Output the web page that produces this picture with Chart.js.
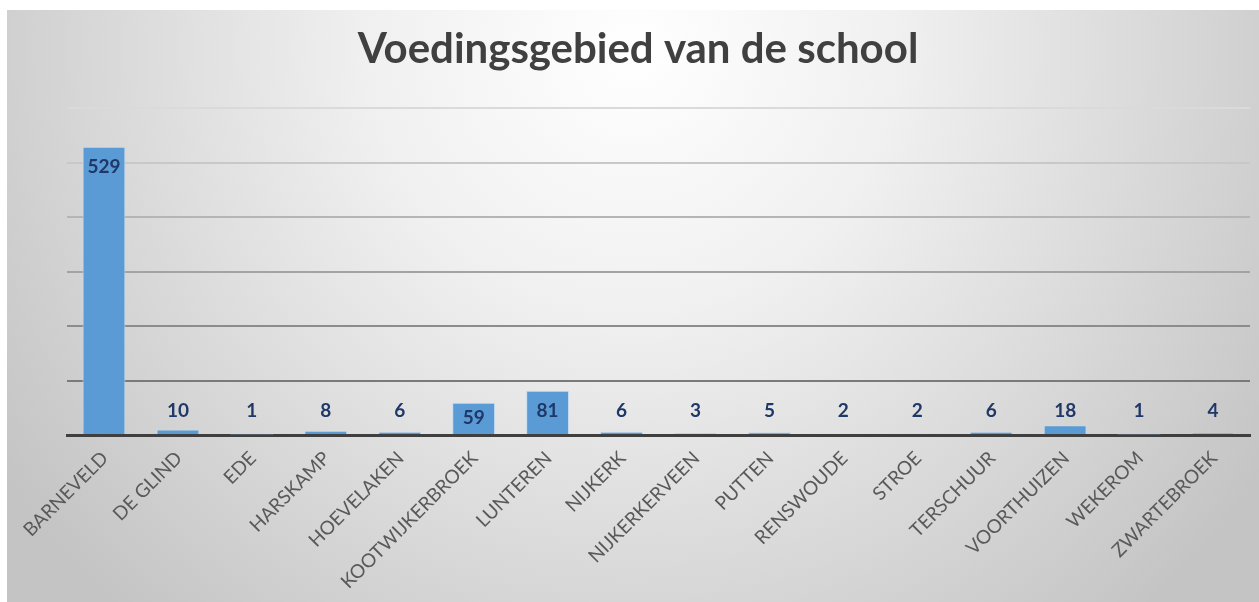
<!DOCTYPE html>
<html>
<head>
<meta charset="utf-8">
<script src="https://cdn.jsdelivr.net/npm/chart.js@4/dist/chart.umd.min.js"></script>
<style>
  html, body { margin: 0; padding: 0; background: #ffffff; }
  #wrap { position: absolute; left: 7px; top: 10px; width: 1252px; height: 592px; }
</style>
</head>
<body>
<div id="wrap"><canvas id="c" width="1252" height="592"></canvas></div>
<script>
const chartTitle = 'Voedingsgebied van de school';
const categories = ['BARNEVELD', 'DE GLIND', 'EDE', 'HARSKAMP', 'HOEVELAKEN', 'KOOTWIJKERBROEK',
  'LUNTEREN', 'NIJKERK', 'NIJKERKERVEEN', 'PUTTEN', 'RENSWOUDE', 'STROE', 'TERSCHUUR',
  'VOORTHUIZEN', 'WEKEROM', 'ZWARTEBROEK'];
const leerlingen = [529, 10, 1, 8, 6, 59, 81, 6, 3, 5, 2, 2, 6, 18, 1, 4];
const yMax = 600;
const yStep = 100;

const bgPlugin = {
  id: 'bg',
  beforeDraw(chart) {
    const ctx = chart.ctx;
    const w = chart.width, h = chart.height;
    ctx.save();
    const g = ctx.createRadialGradient(w * 0.5, 40, 0, w * 0.5, 40, 760);
    g.addColorStop(0, '#ffffff');
    g.addColorStop(0.35, '#f0f0f0');
    g.addColorStop(1, '#c4c4c4');
    ctx.fillStyle = g;
    ctx.fillRect(0, 0, w, h);
    ctx.font = 'bold 42px Lato';
    ctx.fillStyle = '#404040';
    ctx.textAlign = 'center';
    ctx.textBaseline = 'alphabetic';
    ctx.fillText(chartTitle, 631, 53);
    ctx.restore();
  }
};

const labelPlugin = {
  id: 'vals',
  afterDatasetsDraw(chart) {
    const ctx = chart.ctx;
    const meta = chart.getDatasetMeta(0);
    const base = chart.scales.y.getPixelForValue(0);
    ctx.save();
    ctx.font = 'bold 19px Lato';
    ctx.fillStyle = '#1F3868';
    ctx.textAlign = 'center';
    ctx.textBaseline = 'middle';
    meta.data.forEach((bar, i) => {
      const top = bar.y;
      const hgt = base - top;
      let y;
      if (hgt >= 28) y = Math.min(top + 20, base - 17);
      else y = base - 24;
      ctx.fillText(String(leerlingen[i]), bar.x, y);
    });
    ctx.restore();
  }
};

function gridColor(ctx) {
  const v = ctx.tick ? ctx.tick.value : 0;
  if (v === 0) return 'rgba(0,0,0,0)';
  const shades = { 100: '#7a7a7a', 200: '#8c8c8c', 300: '#a3a3a3', 400: '#b5b5b5', 500: '#c8c8c8', 600: '#dadada' };
  return shades[v] || '#bbbbbb';
}

new Chart(document.getElementById('c'), {
  type: 'bar',
  data: {
    labels: categories,
    datasets: [{
      data: leerlingen,
      backgroundColor: '#5B9BD5',
      borderColor: '#C5DCF0',
      borderWidth: 1,
      categoryPercentage: 1.0,
      barPercentage: 0.58
    }]
  },
  options: {
    responsive: false,
    animation: false,
    layout: { padding: { left: 0, right: 9, top: 98, bottom: 0 } },
    plugins: {
      legend: { display: false },
      tooltip: { enabled: false },
      title: { display: false }
    },
    scales: {
      x: {
        grid: { display: false },
        border: { display: true, color: '#3f3f3f', width: 3 },
        ticks: {
          autoSkip: false,
          minRotation: 45,
          maxRotation: 45,
          color: '#595959',
          padding: 4,
          labelOffset: 1,
          font: { family: 'Lato', size: 19 }
        },
        afterFit(scale) { scale.height = 167; }
      },
      y: {
        min: 0,
        max: yMax,
        ticks: { display: false, stepSize: yStep },
        border: { display: false },
        grid: { color: gridColor, lineWidth: 2, drawTicks: false },
        afterFit(scale) { scale.width = 60; }
      }
    }
  },
  plugins: [bgPlugin, labelPlugin]
});
</script>
</body>
</html>
